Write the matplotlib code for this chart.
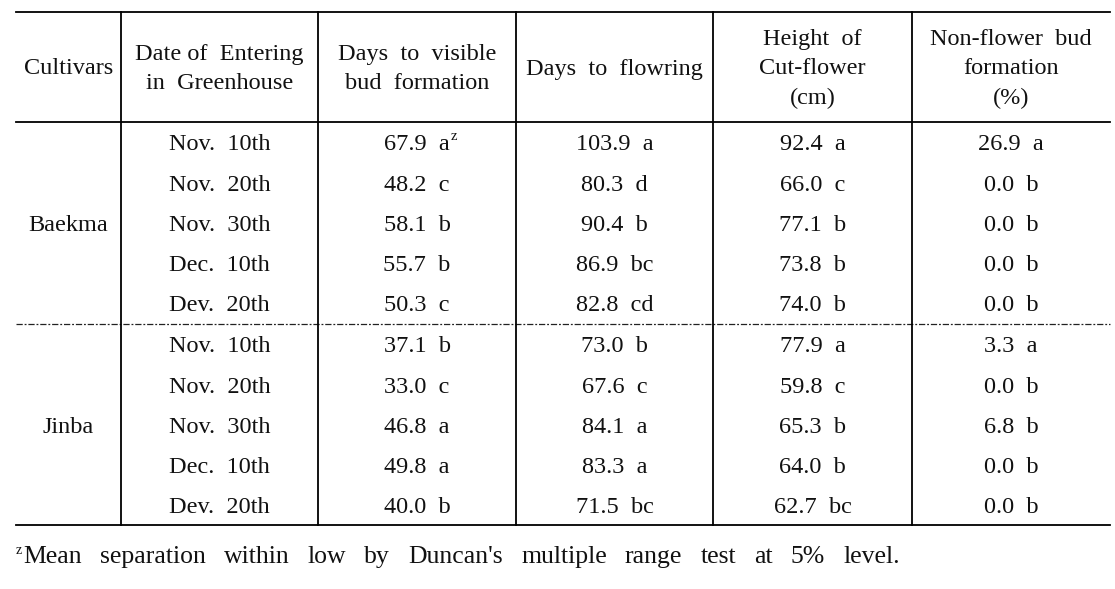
import matplotlib
matplotlib.use("Agg")
import matplotlib.pyplot as plt

W, H = 1115, 589

# table content
header = [
    ["Cultivars"],
    ["Date of  Entering", "in  Greenhouse"],
    ["Days  to  visible", "bud  formation"],
    ["Days  to  flowring"],
    ["Height  of", "Cut-flower", "(cm)"],
    ["Non-flower  bud", "formation", "(%)"],
]
cultivars = ["Baekma", "Jinba"]
dates = ["Nov.  10th", "Nov.  20th", "Nov.  30th", "Dec.  10th", "Dev.  20th"]
bud_days = [
    ["67.9  a", "48.2  c", "58.1  b", "55.7  b", "50.3  c"],
    ["37.1  b", "33.0  c", "46.8  a", "49.8  a", "40.0  b"],
]
flower_days = [
    ["103.9  a", "80.3  d", "90.4  b", "86.9  bc", "82.8  cd"],
    ["73.0  b", "67.6  c", "84.1  a", "83.3  a", "71.5  bc"],
]
heights = [
    ["92.4  a", "66.0  c", "77.1  b", "73.8  b", "74.0  b"],
    ["77.9  a", "59.8  c", "65.3  b", "64.0  b", "62.7  bc"],
]
non_flower = [
    ["26.9  a", "0.0  b", "0.0  b", "0.0  b", "0.0  b"],
    ["3.3  a", "0.0  b", "6.8  b", "0.0  b", "0.0  b"],
]
footnote = "Mean separation within low by Duncan's multiple range test at 5% level."

# layout (pixels)
col_edges = [16, 121, 318, 516, 713, 912, 1110]
y_top, y_head, y_mid, y_bot = 12, 122, 324, 525
row_h = 40.2
first_row = 145
FS = 17.5
TXT = "#111111"

plt.rcParams["font.family"] = ["Liberation Serif", "DejaVu Serif"]
fig = plt.figure(figsize=(W / 100, H / 100), dpi=100)
ax = fig.add_axes([0, 0, 1, 1])
ax.set_xlim(0, W)
ax.set_ylim(H, 0)
ax.axis("off")

lw = 1.3
ax.plot([col_edges[0], col_edges[-1]], [y_top, y_top], color="black", lw=lw)
ax.plot([col_edges[0], col_edges[-1]], [y_head, y_head], color="black", lw=lw)
ax.plot([col_edges[0], col_edges[-1]], [y_bot, y_bot], color="black", lw=lw)
ax.plot([col_edges[0], col_edges[-1]], [y_mid, y_mid], color="#222222", lw=0.9,
        linestyle=(0, (5, 1.5, 1.5, 1.5)))
for x in col_edges[1:-1]:
    ax.plot([x, x], [y_top, y_bot], color="black", lw=lw)

centers = [(a + b) / 2 for a, b in zip(col_edges[:-1], col_edges[1:])]

# header
head_mid = 69
for cx, lines in zip(centers, header):
    n = len(lines)
    for i, line in enumerate(lines):
        y = head_mid + (i - (n - 1) / 2) * 29.5
        ax.text(cx, y, line, ha="center", va="center", fontsize=FS, color=TXT)

# body
cols = [bud_days, flower_days, heights, non_flower]
for g, name in enumerate(cultivars):
    base = first_row + g * 5 * row_h + (1 if g else 0)
    ax.text(centers[0], base + 2 * row_h, name, ha="center", va="center",
            fontsize=FS, color=TXT)
    for r, d in enumerate(dates):
        y = base + r * row_h
        ax.text(centers[1], y, d, ha="center", va="center", fontsize=FS, color=TXT)
        for c, data in enumerate(cols):
            t = ax.text(centers[2 + c], y, data[g][r], ha="center", va="center",
                        fontsize=FS, color=TXT)
            if g == 0 and r == 0 and c == 0:
                fig.canvas.draw()
                bb = t.get_window_extent()
                ax.text(bb.x1 + 1, y - 9, "z", ha="left", va="center",
                        fontsize=FS * 0.6, color=TXT)

# footnote, spread out to the full width like the justified original
FN = 18.5
ax.text(16, 550, "z", ha="left", va="center", fontsize=FN * 0.55, color=TXT)
words = footnote.split()
fig.canvas.draw()
renderer = fig.canvas.get_renderer()
arts = [ax.text(0, 563, w, ha="left", va="baseline", fontsize=FN, color=TXT) for w in words]
widths = [a.get_window_extent(renderer).width for a in arts]
x0, x1 = 23, 900
gap = (x1 - x0 - sum(widths)) / (len(words) - 1)
x = x0
for a, w in zip(arts, widths):
    a.set_x(x)
    x += w + gap

fig.savefig("out.png", dpi=100)
